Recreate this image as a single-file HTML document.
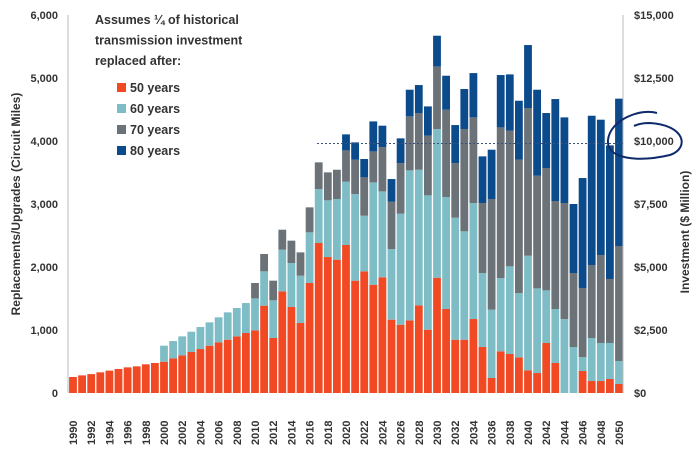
<!DOCTYPE html>
<html><head><meta charset="utf-8"><style>
body{margin:0;background:#fff;font-family:"Liberation Sans",sans-serif}
svg text{font-family:"Liberation Sans",sans-serif;font-weight:bold;fill:#333}
</style></head><body>
<svg id="c" width="700" height="449"></svg>
<script>
const years=[];for(let y=1990;y<=2050;y++)years.push(y);
const s50=[254,280,300,328,355,381,407,423,455,476,497,550,598,651,698,751,804,846,899,952,994,1386,873,1613,1365,1111,1746,2381,2158,2116,2349,1783,1931,1719,1836,1164,1084,1153,1391,1005,1830,1333,846,846,1174,730,238,661,619,566,360,317,794,476,0,0,349,190,190,222,143];
const cum60=[254,280,300,328,355,381,407,423,455,476,751,825,899,973,1047,1121,1201,1280,1349,1428,1502,1931,1471,2275,2063,1862,2550,3237,3058,3079,3354,3158,2814,3343,3200,2285,2846,3534,3544,3137,4190,3111,2783,2566,3015,1904,1323,1825,2010,1587,2179,1661,1629,1333,1174,730,571,873,794,794,508];
const cum70=[254,280,300,328,355,381,407,423,455,476,751,825,899,973,1047,1121,1201,1280,1349,1428,1746,2206,1783,2592,2418,2232,2947,3661,3502,3544,3851,3703,3423,3835,3904,3036,3650,4391,4444,4084,5184,4497,3650,4190,4375,3015,3079,4216,4163,3703,4523,3449,3571,3047,3016,1904,1667,2032,2190,1810,2333];
const cum80=[254,280,300,328,355,381,407,423,455,476,751,825,899,973,1047,1121,1201,1280,1349,1428,1746,2206,1783,2592,2418,2232,2947,3661,3502,3544,4105,3978,3714,4311,4243,3396,4042,4814,4888,4549,5671,5036,4253,4825,5078,3756,3862,5047,5057,4639,5523,4814,4444,4666,4375,3000,3412,4401,4338,3930,4672];
const leftTicks=[0,1000,2000,3000,4000,5000,6000];
const rightTicks=["$0","$2,500","$5,000","$7,500","$10,000","$12,500","$15,000"];
const refLine=3960;
const NS="http://www.w3.org/2000/svg",svg=document.getElementById('c');
const Y=v=>393-v*(378/6000);
const X=i=>73+i*9.1;
function mk(t,a,p){const e=document.createElementNS(NS,t);for(const k in a)e.setAttribute(k,a[k]);(p||svg).appendChild(e);return e;}
const colors=["#f04923","#7fbdc6","#6b7278","#0b4a8b"];
const names=["50","60","70","80"];
const bars=mk('g',{});

years.forEach((yr,i)=>{
  const tops=[s50[i],cum60[i],cum70[i],cum80[i]];let prev=0;
  tops.forEach((t,k)=>{if(t>prev){const r=mk('rect',{x:X(i)-3.9,y:Y(t),width:7.8,height:Y(prev)-Y(t),fill:colors[k]},bars);
    
    }prev=Math.max(prev,t);});
  if(i%2==0){const tx=mk('text',{x:0,y:0,'font-size':11,transform:`translate(${X(i)+4},445) rotate(-90)`});
    tx.textContent=yr;}
});
let a=mk('line',{x1:68,y1:15,x2:68,y2:393,stroke:'#bbb'});
a=mk('line',{x1:623,y1:15,x2:623,y2:393,stroke:'#bbb'});
leftTicks.forEach((v,i)=>{
  const t=mk('text',{x:58,y:Y(v)+4,'font-size':11,'text-anchor':'end'});
  t.textContent=v.toLocaleString('en-US');
  const r=mk('text',{x:634,y:Y(v)+4,'font-size':11});
  r.textContent=rightTicks[i];
});
a=mk('line',{x1:317,y1:Y(refLine),x2:623,y2:Y(refLine),stroke:'#3a4f7a','stroke-dasharray':'2,2','stroke-width':1});

a=mk('path',{d:'M657,113 C640,108 610,120 608,140 C606,160 640,162 670,155 C690,148 685,125 650,123 C640,123 636,125 634,126',fill:'none',stroke:'#0e2a6b','stroke-width':2});

a=mk('text',{x:0,y:0,'font-size':12,'text-anchor':'middle',transform:'translate(20,204) rotate(-90)'});
a.textContent='Replacements/Upgrades (Circuit Miles)';
a=mk('text',{x:0,y:0,'font-size':12,'text-anchor':'middle',transform:'translate(689,232) rotate(-90)'});
a.textContent='Investment ($ Million)';
const lg=mk('g',{});
["Assumes ¼ of historical","transmission investment","replaced after:"].forEach((s,i)=>{const t=mk('text',{x:95,y:24+i*20.5,'font-size':12.5},lg);
  t.textContent=s;});
names.forEach((n,k)=>{const yy=92+k*21;
  const r=mk('rect',{x:117,y:yy-9,width:9,height:9,fill:colors[k]},lg);
  
  const t=mk('text',{x:130,y:yy,'font-size':12.5},lg);
  t.textContent=n+' years';});
</script>
</body></html>
